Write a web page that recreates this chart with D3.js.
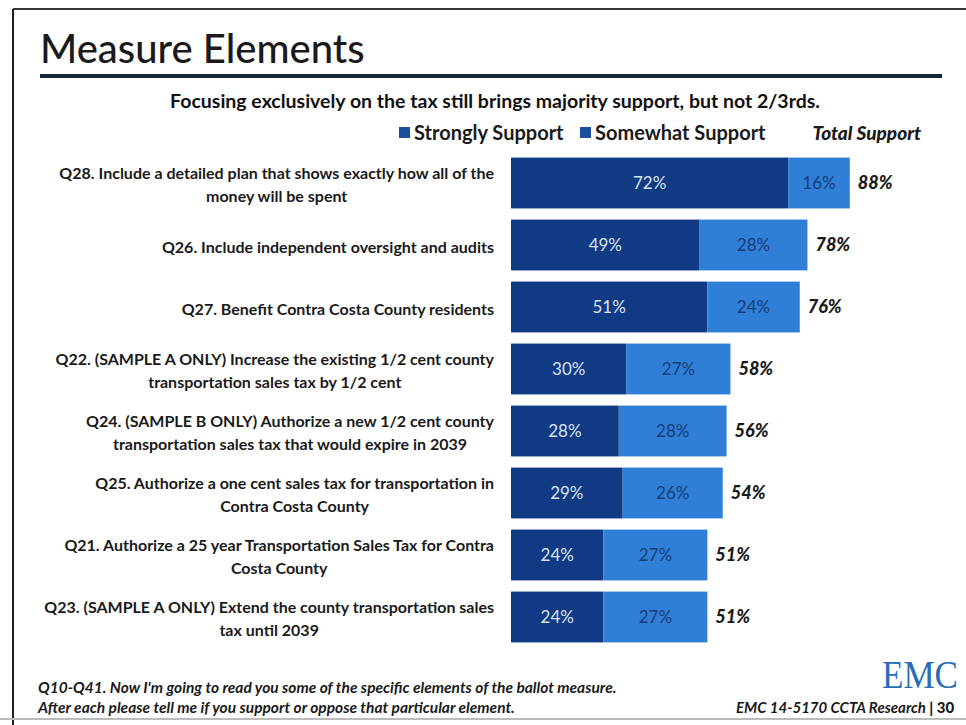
<!DOCTYPE html>
<html>
<head>
<meta charset="utf-8">
<script src="https://cdn.jsdelivr.net/npm/d3@7/dist/d3.min.js"></script>
<style>
  html, body { margin: 0; padding: 0; background: #ffffff; }
  svg { display: block; }
</style>
</head>
<body>
<svg id="chart" width="966" height="725"></svg>
<script>
// Survey items, shown top to bottom (each entry is the wrapped label lines)
const categories = [
  ["Q28. Include a detailed plan that shows exactly how all of the", "money will be spent"],
  ["Q26. Include independent oversight and audits"],
  ["Q27. Benefit Contra Costa County residents"],
  ["Q22. (SAMPLE A ONLY) Increase the existing 1/2 cent county", "transportation sales tax by 1/2 cent"],
  ["Q24. (SAMPLE B ONLY) Authorize a new 1/2 cent county", "transportation sales tax that would expire in 2039"],
  ["Q25. Authorize a one cent sales tax for transportation in", "Contra Costa County"],
  ["Q21. Authorize a 25 year Transportation Sales Tax for Contra", "Costa County"],
  ["Q23. (SAMPLE A ONLY) Extend the county transportation sales", "tax until 2039"]
];
const strongly = [72, 49, 51, 30, 28, 29, 24, 24];
const somewhat = [16, 28, 24, 27, 28, 26, 27, 27];
const totalSupport = [88, 78, 76, 58, 56, 54, 51, 51];
const seriesNames = ["Strongly Support", "Somewhat Support"];

const FONT = "Lato, 'Open Sans', sans-serif";
const C_STRONG = "#103a84";
const C_SOME = "#2f7fd6";

const svg = d3.select("#chart");

// slide frame
svg.append("line").attr("x1", 13).attr("x2", 13).attr("y1", 9).attr("y2", 725)
  .attr("stroke", "#222").attr("stroke-width", 2);
svg.append("line").attr("x1", 13).attr("x2", 966).attr("y1", 9).attr("y2", 9)
  .attr("stroke", "#333").attr("stroke-width", 2);
svg.append("line").attr("x1", 0).attr("x2", 966).attr("y1", 719).attr("y2", 719)
  .attr("stroke", "#bbb").attr("stroke-width", 2);

// title and rule
svg.append("text").attr("x", 40).attr("y", 63)
  .attr("font-family", FONT).attr("font-size", 40).attr("font-weight", 500).attr("fill", "#1a1a1a")
  .text("Measure Elements");
svg.append("rect").attr("x", 40).attr("y", 74).attr("width", 902).attr("height", 4)
  .attr("fill", "#14283a");

// subtitle
svg.append("text").attr("x", 495).attr("y", 108).attr("text-anchor", "middle")
  .attr("font-family", FONT).attr("font-weight", 700).attr("font-size", 19.5)
  .attr("fill", "#111")
  .text("Focusing exclusively on the tax still brings majority support, but not 2/3rds.");

// legend
const legend = svg.append("g").attr("font-family", FONT).attr("font-size", 20)
  .attr("font-weight", 700).attr("fill", "#1a1a1a");
const legendX = [399, 580];
seriesNames.forEach((name, i) => {
  legend.append("rect").attr("x", legendX[i]).attr("y", 127).attr("width", 11).attr("height", 11)
    .attr("fill", "#1a4f9e");
  legend.append("text").attr("x", legendX[i] + 15).attr("y", 140).text(name);
});
legend.append("text").attr("x", 921).attr("y", 140).attr("text-anchor", "end")
  .attr("font-style", "italic").attr("font-weight", 900).attr("font-size", 19).text("Total Support");

// scales
const x = d3.scaleLinear().domain([0, 100]).range([511, 896]);
const y = d3.scaleBand().domain(d3.range(categories.length)).range([152, 648])
  .paddingInner(0.18).paddingOuter(0.09);

const rows = svg.append("g").selectAll("g").data(categories).join("g")
  .attr("transform", (d, i) => `translate(0,${y(i)})`);
const bw = y.bandwidth();

rows.append("rect").attr("x", x(0)).attr("y", 0)
  .attr("width", (d, i) => x(strongly[i]) - x(0)).attr("height", bw)
  .attr("fill", C_STRONG);
rows.append("rect").attr("x", (d, i) => x(strongly[i])).attr("y", 0)
  .attr("width", (d, i) => x(strongly[i] + somewhat[i]) - x(strongly[i])).attr("height", bw)
  .attr("fill", C_SOME);

// segment values
rows.append("text")
  .attr("x", (d, i) => (x(0) + x(strongly[i])) / 2).attr("y", bw / 2 + 6)
  .attr("text-anchor", "middle").attr("font-family", FONT).attr("font-size", 17)
  .attr("fill", "#d8e4f4").text((d, i) => strongly[i] + "%");
rows.append("text")
  .attr("x", (d, i) => (x(strongly[i]) + x(strongly[i] + somewhat[i])) / 2).attr("y", bw / 2 + 6)
  .attr("text-anchor", "middle").attr("font-family", FONT).attr("font-size", 17)
  .attr("fill", "#173d78").text((d, i) => somewhat[i] + "%");

// total support labels
rows.append("text")
  .attr("x", (d, i) => x(strongly[i] + somewhat[i]) + 8).attr("y", bw / 2 + 6)
  .attr("font-family", FONT).attr("font-size", 18).attr("font-weight", 900)
  .attr("font-style", "italic").attr("fill", "#1a1a1a")
  .text((d, i) => totalSupport[i] + "%");

// category labels: block right-aligned at the bars, lines centred within it
const labelRight = 494;
rows.each(function(lines) {
  const g = d3.select(this).append("g").attr("font-family", FONT)
    .attr("font-size", 16).attr("font-weight", 700).attr("fill", "#1a1a1a");
  const lineH = 23;
  const y0 = bw / 2 + 8 - (lines.length - 1) * lineH / 2;
  const texts = lines.map((t, k) => g.append("text").attr("y", y0 + k * lineH).text(t));
  const widest = d3.max(texts, t => t.node().getComputedTextLength());
  texts.forEach(t => t.attr("x", labelRight - widest / 2).attr("text-anchor", "middle"));
});

// footer
const foot = svg.append("g").attr("font-family", FONT).attr("font-size", 15.5)
  .attr("font-style", "italic").attr("font-weight", 700).attr("fill", "#1a1a1a");
foot.append("text").attr("x", 38).attr("y", 693)
  .text("Q10-Q41. Now I'm going to read you some of the specific elements of the ballot measure.");
foot.append("text").attr("x", 38).attr("y", 713)
  .text("After each please tell me if you support or oppose that particular element.");
const src = foot.append("text").attr("x", 736).attr("y", 713).attr("font-size", 15);
src.append("tspan").text("EMC 14-5170 CCTA Research ");
src.append("tspan").attr("font-weight", 900).attr("font-style", "normal").text("| 30");

// EMC logo
svg.append("text").attr("x", 882).attr("y", 688)
  .attr("font-family", "'Liberation Serif', 'DejaVu Serif', serif").attr("font-size", 39)
  .attr("fill", "#2a6db5").attr("textLength", 76).attr("lengthAdjust", "spacingAndGlyphs")
  .text("EMC");
</script>
</body>
</html>
